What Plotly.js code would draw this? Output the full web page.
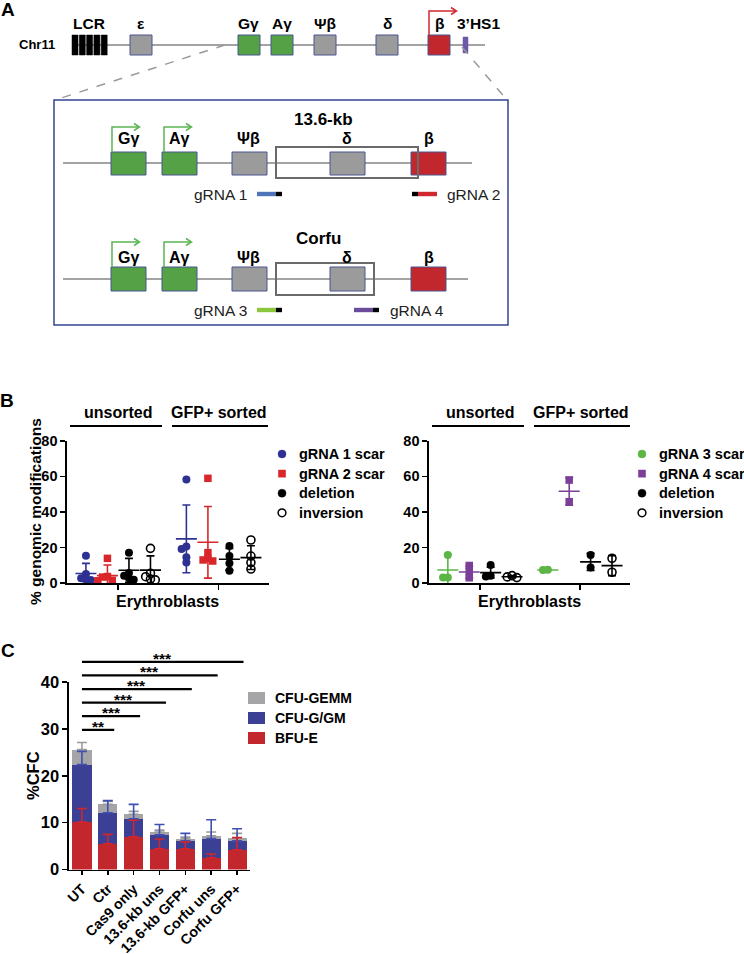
<!DOCTYPE html>
<html><head><meta charset="utf-8">
<script src="https://cdn.plot.ly/plotly-3.0.1.min.js"></script>
<style>html,body{margin:0;padding:0;background:#fff}#chart{width:744px;height:954px}</style>
</head><body><div id="chart"></div>
<script>
// ================= DATA =================
// Panel A gene labels
const chromLabels = ['LCR', 'ε', 'Gγ', 'Aγ', 'Ψβ', 'δ', 'β', '3’HS1'];
const zoomLabels = ['Gγ', 'Aγ', 'Ψβ', 'δ', 'β'];
const deletionNames = ['13.6-kb', 'Corfu'];
const guideNames = ['gRNA 1', 'gRNA 2', 'gRNA 3', 'gRNA 4'];

// Panel B
const groupsB = ['unsorted', 'GFP+ sorted'];
const seriesLeft = ['gRNA 1 scar', 'gRNA 2 scar', 'deletion', 'inversion'];
const seriesRight = ['gRNA 3 scar', 'gRNA 4 scar', 'deletion', 'inversion'];
// left (13.6-kb) individual values, unsorted / GFP+ sorted
const g1Uns = [15.5, 5.2, 2.8, 2.1, 1.8];
const g1Gfp = [58.3, 20.6, 19.3, 14.6, 11.6];
const g2Uns = [14.0, 3.8, 3.5, 1.6, 1.4];
const g2Gfp = [58.9, 17.2, 14.0, 13.1, 12.5];
const delLUns = [17.2, 5.8, 4.2, 2.8, 2.0];
const delLGfp = [20.9, 15.3, 11.2, 7.1];
const invLUns = [19.6, 5.6, 3.7, 2.4, 1.9];
const invLGfp = [24.3, 15.3, 11.6, 8.0];
// left means and SD [unsorted, GFP+]
const g1Mean = [5.5, 24.9], g1Sd = [5.7, 19.0];
const g2Mean = [4.3, 23.0], g2Sd = [6.0, 20.1];
const delLMean = [7.3, 13.5], delLSd = [6.7, 6.1];
const invLMean = [7.4, 14.4], invLSd = [8.0, 6.7];
// right (Corfu)
const g3Uns = [15.9, 3.2, 3.2];
const g3Gfp = [7.6, 7.4];
const g4Uns = [10.0, 6.6, 3.1];
const g4Gfp = [57.9, 45.8];
const delRUns = [10.2, 4.2, 3.8];
const delRGfp = [15.9, 8.8];
const invRUns = [4.3, 3.6, 3.2];
const invRGfp = [14.0, 6.2];
const g3Mean = [7.5, 7.5], g3Sd = [8.8, 0.1];
const g4Mean = [6.3, 51.6], g4Sd = [3.4, 7.8];
const delRMean = [6.0, 12.0], delRSd = [3.0, 4.8];
const invRMean = [3.7, 9.9], invRSd = [0.6, 5.6];

// Panel C
const categoriesC = ['UT', 'Ctr', 'Cas9 only', '13.6-kb uns', '13.6-kb GFP+', 'Corfu uns', 'Corfu GFP+'];
const bfuE = [10.1, 5.5, 7.0, 4.4, 4.4, 2.5, 4.2];
const cfuGGM = [12.3, 6.6, 3.8, 3.0, 1.7, 4.1, 1.9];
const cfuGEMM = [3.2, 1.8, 1.0, 0.6, 0.5, 0.6, 0.6];
const bfuESd = [2.9, 2.0, 3.5, 2.1, 1.5, 0.8, 2.6];
const cfuGGMSd = [2.8, 2.6, 3.1, 2.2, 1.6, 4.0, 2.6];
const cfuGEMMSd = [1.5, 0.6, 0.6, 0.4, 0.3, 0.8, 1.0];
const seriesC = ['CFU-GEMM', 'CFU-G/GM', 'BFU-E'];
const sigRef = 'UT';
const sigTargets = ['Ctr', 'Cas9 only', '13.6-kb uns', '13.6-kb GFP+', 'Corfu uns', 'Corfu GFP+'];
const sigLabels = ['**', '***', '***', '***', '***', '***'];

// ================= HELPERS =================
const FONT = 'Liberation Sans, Arial, Helvetica, sans-serif';
const W = 744, H = 954;
const px = x => x / W, py = y => 1 - y / H;
const shapes = [], annotations = [];
function ann(text, x, y, o = {}) {
  const f = Object.assign({family: FONT, size: 14, color: '#000', weight: 'bold'}, o.font || {});
  const a = Object.assign({text, x: px(x), y: py(y), xref: 'paper', yref: 'paper', showarrow: false,
    xanchor: 'center', yanchor: 'middle'}, o);
  a.font = f; return a;
}
function rect(x0, y0, x1, y1, fill, lc, lw) {
  return {type: 'rect', xref: 'paper', yref: 'paper', x0: px(x0), x1: px(x1), y0: py(y1), y1: py(y0),
    fillcolor: fill, line: {color: lc, width: lw}, layer: 'above'};
}
function circ(cx, cy, r, fill, lc, lw) {
  return {type: 'circle', xref: 'paper', yref: 'paper', x0: px(cx - r), x1: px(cx + r), y0: py(cy + r), y1: py(cy - r),
    fillcolor: fill, line: {color: lc, width: lw}, layer: 'above'};
}
function seg(x0, y0, x1, y1, color, width, dash) {
  return {type: 'line', xref: 'paper', yref: 'paper', x0: px(x0), x1: px(x1), y0: py(y0), y1: py(y1),
    line: {color, width, dash: dash || 'solid'}, layer: 'above'};
}
function pth(pts, color, width) {
  return {type: 'path', xref: 'paper', yref: 'paper', layer: 'above',
    path: 'M' + pts.map(p => px(p[0]) + ',' + py(p[1])).join(' L'), line: {color, width}};
}
function arrow(x, yb, yt, xe, color) {
  shapes.push(pth([[x, yb], [x, yt], [xe, yt]], color, 1.5));
  shapes.push(pth([[xe - 5, yt - 3.5], [xe + 0.5, yt], [xe - 5, yt + 3.5]], color, 1.5));
}

// ================= PANEL A =================
const GREEN = '#55a246', GRAY = '#9b9b9b', RED = '#c1272d', EDGE = '#4a5590';
annotations.push(ann('A', 8, 10, {font: {size: 19}}));
annotations.push(ann('Chr11', 57, 45, {xanchor: 'right', font: {size: 13}}));
shapes.push(seg(72, 45, 485, 45, '#a3a3a3', 2));
for (let i = 0; i < 5; i++) shapes.push(rect(72 + i * 7.3, 35, 72 + i * 7.3 + 6, 55, '#000', '#000', 0.5));
const topBoxes = [[130, GRAY], [238, GREEN], [271, GREEN], [314, GRAY], [376, GRAY], [428, RED]];
topBoxes.forEach(b => shapes.push(rect(b[0], 35, b[0] + 22, 55, b[1], EDGE, 1)));
shapes.push(rect(463, 37, 468, 53, '#6a5aa8', '#6a5aa8', 0.5));
const topLabelX = [89, 141, 249, 282, 325, 387, 439, 478];
chromLabels.forEach((t, i) => annotations.push(ann(t, topLabelX[i], 24, {font: {size: 15.5}})));
arrow(429, 35, 11, 456, '#d0282e');
shapes.push(seg(225, 45, 55, 100, '#9a9a9a', 1.5, 'dash'));
shapes.push(seg(462, 47, 507, 100, '#9a9a9a', 1.5, 'dash'));
shapes.push(rect(54, 100, 508, 325, 'rgba(0,0,0,0)', '#34448f', 1.5));

const zoomX = [111, 162, 232, 330, 411];
const zoomCol = [GREEN, GREEN, GRAY, GRAY, RED];
const zoomLabX = [128, 179, 248, 347, 429];
function geneRow(lineY, top, bot, labY, x2, delX1, delTop, delBot, titleX, titleY, title, arrTop) {
  shapes.push(seg(63, lineY, x2, lineY, '#a3a3a3', 2));
  zoomX.forEach((x, i) => shapes.push(rect(x, top, x + 35, bot, zoomCol[i], EDGE, 1)));
  shapes.push(rect(276, delTop, delX1, delBot, 'rgba(0,0,0,0)', '#6a6a6a', 2));
  zoomLabels.forEach((t, i) => annotations.push(ann(t, zoomLabX[i], labY, {font: {size: 16}})));
  annotations.push(ann(title, titleX, titleY, {font: {size: 17}}));
  arrow(112, top, arrTop, 139, '#5bb552');
  arrow(164, top, arrTop, 191, '#5bb552');
}
geneRow(163, 152, 175, 139, 472, 418, 147, 178, 323, 120, deletionNames[0], 127);
geneRow(279, 267, 291, 257, 468, 374, 263, 295, 318, 239, deletionNames[1], 242);
function guide(x0, x1, y, color, blackLeft) {
  const t = 2.2;
  if (blackLeft) { shapes.push(rect(x0, y - t, x0 + 6, y + t, '#000', '#000', 0)); shapes.push(rect(x0 + 6, y - t, x1, y + t, color, color, 0)); }
  else { shapes.push(rect(x0, y - t, x1 - 6, y + t, color, color, 0)); shapes.push(rect(x1 - 6, y - t, x1, y + t, '#000', '#000', 0)); }
}
guide(257, 282, 194, '#4f74b8', false);
guide(412, 437, 194, '#d1282e', true);
guide(257, 282, 310, '#8cc63f', false);
guide(354, 379, 310, '#6b4c9a', false);
const gf = {font: {size: 15.5, weight: 'normal', color: '#222'}};
annotations.push(ann(guideNames[0], 249, 194, Object.assign({xanchor: 'right'}, gf)));
annotations.push(ann(guideNames[1], 445, 194, Object.assign({xanchor: 'left'}, gf)));
annotations.push(ann(guideNames[2], 249, 310, Object.assign({xanchor: 'right'}, gf)));
annotations.push(ann(guideNames[3], 388, 310, Object.assign({xanchor: 'left'}, gf)));

// ================= PANEL B =================
const traces = [];
const GAP = 4.67;
const posU = k => 1 + k, posG = k => 1 + GAP + k;
const X_PX = 21.5, Y_PX = 142.6 / 80;
function swarm(vals, center, d) {
  const placed = [], xs = [];
  vals.forEach(v => {
    const yy = v * Y_PX;
    for (let s = 0; s < 30; s++) {
      const k = s === 0 ? 0 : (s % 2 ? -Math.ceil(s / 2) : Math.ceil(s / 2));
      const dx = k * d * 0.6;
      if (placed.every(p => Math.hypot(p[0] - dx, p[1] - yy) >= d * 0.55)) {
        placed.push([dx, yy]); xs.push(center + dx / X_PX); return;
      }
    }
    xs.push(center);
  });
  return xs;
}
const markerStyles = {
  circle: c => ({symbol: 'circle', size: 8, color: c}),
  square: c => ({symbol: 'square', size: 7.5, color: c}),
  open: c => ({symbol: 'circle-open', size: 8, color: c, line: {width: 1.6, color: c}})
};
function legendSym(sym, cx, cy, c) {
  if (sym === 'circle') shapes.push(circ(cx, cy, 4, c, c, 0.5));
  else if (sym === 'square') shapes.push(rect(cx - 3.6, cy - 3.6, cx + 3.6, cy + 3.6, c, c, 0.5));
  else shapes.push(circ(cx, cy, 3.9, 'rgba(0,0,0,0)', c, 1.5));
}
function addPanelB(xa, ya, names, sets, legX, legY) {
  sets.forEach((s, k) => {
    const mk = markerStyles[s.sym](s.color);
    traces.push({type: 'scatter', mode: 'markers', xaxis: xa, yaxis: ya, showlegend: false, name: names[k],
      x: swarm(s.u, posU(k), 8).concat(swarm(s.g, posG(k), 8)), y: s.u.concat(s.g),
      marker: mk, cliponaxis: false, hoverinfo: 'skip'});
    traces.push({type: 'scatter', mode: 'markers', xaxis: xa, yaxis: ya, showlegend: false,
      x: [posU(k), posG(k)], y: s.mean,
      marker: {symbol: 'line-ew', size: 15, color: s.color, line: {width: 1.6, color: s.color}},
      error_y: {type: 'data', array: s.sd, visible: true, color: s.color, thickness: 1.6, width: 4},
      hoverinfo: 'skip'});
    const ly = legY + k * 19.6;
    legendSym(s.sym, legX, ly, s.color);
    annotations.push(ann(names[k], legX + 15, ly, {xanchor: 'left', font: {size: 14.5}}));
  });
}
addPanelB('x', 'y', seriesLeft, [
  {u: g1Uns, g: g1Gfp, mean: g1Mean, sd: g1Sd, color: '#2e3192', sym: 'circle'},
  {u: g2Uns, g: g2Gfp, mean: g2Mean, sd: g2Sd, color: '#d8262a', sym: 'square'},
  {u: delLUns, g: delLGfp, mean: delLMean, sd: delLSd, color: '#000', sym: 'circle'},
  {u: invLUns, g: invLGfp, mean: invLMean, sd: invLSd, color: '#000', sym: 'open'}
], 282, 454);
addPanelB('x2', 'y2', seriesRight, [
  {u: g3Uns, g: g3Gfp, mean: g3Mean, sd: g3Sd, color: '#5cb646', sym: 'circle'},
  {u: g4Uns, g: g4Gfp, mean: g4Mean, sd: g4Sd, color: '#7b3f98', sym: 'square'},
  {u: delRUns, g: delRGfp, mean: delRMean, sd: delRSd, color: '#000', sym: 'circle'},
  {u: invRUns, g: invRGfp, mean: invRMean, sd: invRSd, color: '#000', sym: 'open'}
], 642, 454);
annotations.push(ann('B', 7, 400, {font: {size: 19}}));
[67, 429].forEach(ax0 => {
  annotations.push(ann(groupsB[0], ax0 + 51, 413, {font: {size: 16}}));
  annotations.push(ann(groupsB[1], ax0 + 152, 413, {font: {size: 16}}));
  shapes.push(seg(ax0 + 3, 426, ax0 + 95, 426, '#000', 2));
  shapes.push(seg(ax0 + 105, 426, ax0 + 201, 426, '#000', 2));
  annotations.push(ann('Erythroblasts', ax0 + 100, 601, {font: {size: 16}}));
});
annotations.push(ann('% genomic modifications', 35, 512, {textangle: -90, font: {size: 15.5}}));

// ================= PANEL C =================
const cRed = '#c1272d', cBlue = '#3b4095', cGray = '#a5a5a7';
const stackC = [[bfuE, cRed, 'BFU-E'], [cfuGGM, cBlue, 'CFU-G/GM'], [cfuGEMM, cGray, 'CFU-GEMM']];
stackC.forEach(([vals, col, name]) => traces.push({type: 'bar', xaxis: 'x3', yaxis: 'y3', showlegend: false, name,
  x: categoriesC, y: vals, marker: {color: col}, width: 0.74, hoverinfo: 'skip'}));
const top1 = bfuE, top2 = bfuE.map((v, i) => v + cfuGGM[i]), top3 = top2.map((v, i) => v + cfuGEMM[i]);
[[top3, cfuGEMMSd, '#9a9a9c'], [top2, cfuGGMSd, '#4050b0'], [top1, bfuESd, '#d2262c']].forEach(([tp, sd, col]) => {
  traces.push({type: 'scatter', mode: 'markers', xaxis: 'x3', yaxis: 'y3', showlegend: false, x: categoriesC, y: tp,
    marker: {size: 1, color: 'rgba(0,0,0,0)'},
    error_y: {type: 'data', symmetric: false, array: sd, arrayminus: sd.map(() => 0), color: col, thickness: 1.6, width: 5},
    hoverinfo: 'skip'});
});
const legCColors = {'CFU-GEMM': cGray, 'CFU-G/GM': cBlue, 'BFU-E': cRed};
seriesC.forEach((nm, i) => {
  const cy = 698 + i * 20;
  shapes.push(rect(248, cy - 6, 265, cy + 6, legCColors[nm], legCColors[nm], 0));
  annotations.push(ann(nm, 273, cy, {xanchor: 'left', font: {size: 14}}));
});
const C_Y0 = 869.5, C_Y40 = 682, C_PX = (C_Y0 - C_Y40) / 40, C_TOP = 650;
const refIdx = categoriesC.indexOf(sigRef);
sigTargets.forEach((t, i) => {
  const ti = categoriesC.indexOf(t);
  const h = 29.8 + i * 2.9;
  const xe = ti + 0.25;
  traces.push({type: 'scatter', mode: 'lines', xaxis: 'x4', yaxis: 'y4', showlegend: false,
    x: [refIdx, xe], y: [h, h], line: {color: '#000', width: 2.2}, hoverinfo: 'skip'});
  annotations.push({text: sigLabels[i], xref: 'x4', yref: 'y4', x: (refIdx + xe) / 2, y: h, showarrow: false,
    xanchor: 'center', yanchor: 'bottom', yshift: -7, font: {family: FONT, size: 15.5, weight: 'bold', color: '#000'}});
});
annotations.push(ann('C', 8, 650, {font: {size: 19}}));
annotations.push(ann('%CFC', 33, 776, {textangle: -90, font: {size: 16.5}}));

// ================= LAYOUT =================
const tickF = {family: FONT, size: 14.5, weight: 'bold', color: '#000'};
const axBase = {showline: true, linewidth: 1.6, linecolor: '#000', ticks: 'outside', ticklen: 5, tickwidth: 1.6,
  tickcolor: '#000', showgrid: false, zeroline: false, tickfont: tickF, fixedrange: true};
const tickFC = Object.assign({}, tickF, {size: 16.5});
const layout = {
  width: W, height: H, margin: {l: 0, r: 0, t: 0, b: 0}, paper_bgcolor: '#fff', plot_bgcolor: 'rgba(0,0,0,0)',
  font: {family: FONT}, barmode: 'stack', showlegend: false,
  xaxis: Object.assign({}, axBase, {domain: [px(67), px(269)], range: [0.12, 9.51], tickvals: [2.5, 2.5 + GAP], showticklabels: false, anchor: 'y'}),
  yaxis: Object.assign({}, axBase, {domain: [py(583.3), py(440.7)], range: [0, 80], tickvals: [0, 20, 40, 60, 80], anchor: 'x'}),
  xaxis2: Object.assign({}, axBase, {domain: [px(429), px(630)], range: [0.12, 9.51], tickvals: [2.5, 2.5 + GAP], showticklabels: false, anchor: 'y2'}),
  yaxis2: Object.assign({}, axBase, {domain: [py(583.3), py(440.7)], range: [0, 80], tickvals: [0, 20, 40, 60, 80], anchor: 'x2'}),
  xaxis3: Object.assign({}, axBase, {domain: [px(69), px(250)], range: [-0.5, 6.5], type: 'category', tickangle: -45, anchor: 'y3', ticklen: 4, tickfont: Object.assign({}, tickF, {size: 14.2})}),
  yaxis3: Object.assign({}, axBase, {domain: [py(C_Y0), py(C_Y40)], range: [0, 40], tickvals: [0, 10, 20, 30, 40], anchor: 'x3', tickfont: tickFC}),
  xaxis4: {domain: [px(69), px(250)], range: [-0.5, 6.5], visible: false, anchor: 'y4', fixedrange: true},
  yaxis4: {domain: [py(C_Y0), py(C_TOP)], range: [0, (C_Y0 - C_TOP) / C_PX], visible: false, anchor: 'x4', fixedrange: true},
  shapes, annotations
};
Plotly.newPlot('chart', traces, layout, {displayModeBar: false, staticPlot: true});
</script></body></html>
